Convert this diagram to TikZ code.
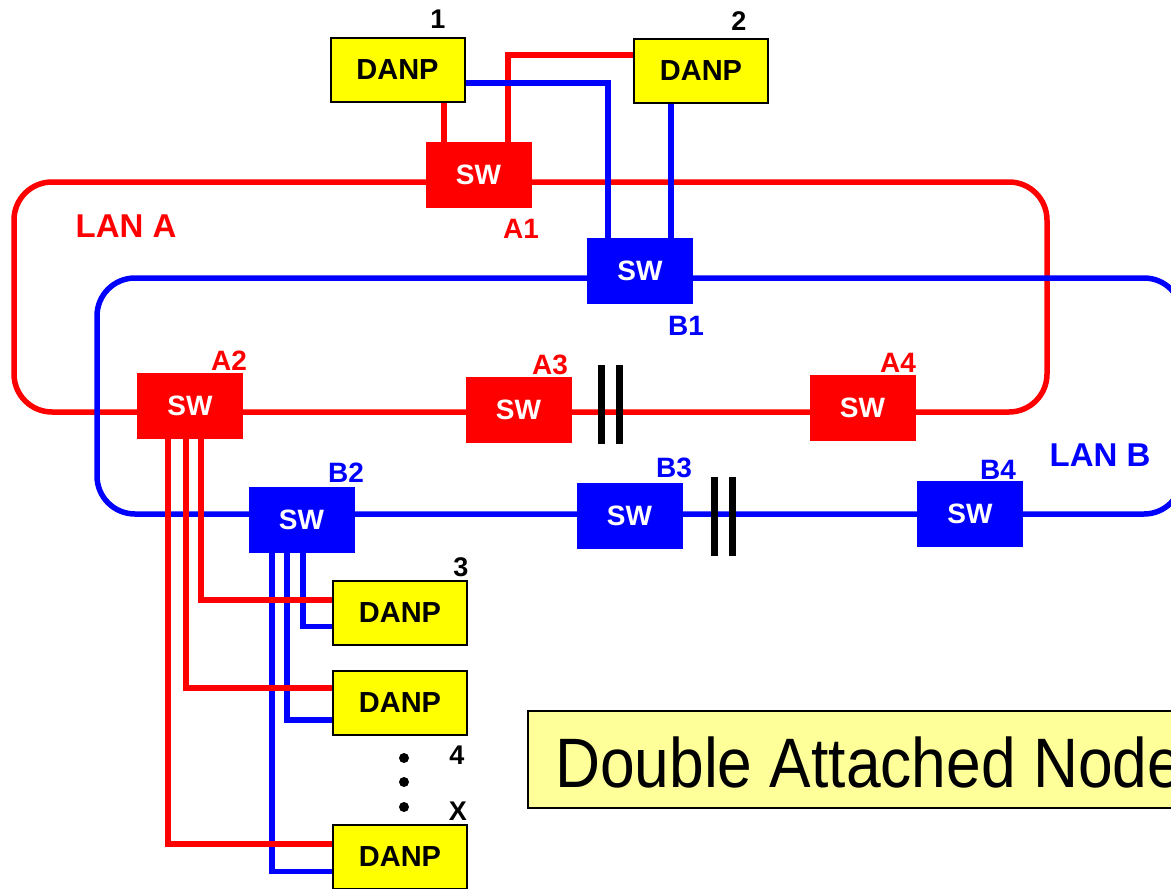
\documentclass[tikz,border=0pt]{standalone}
\usepackage{fontspec}
\setmainfont{Liberation Sans}
\usetikzlibrary{calc,backgrounds}
\definecolor{lanred}{RGB}{255,0,0}
\definecolor{lanblue}{RGB}{0,0,255}
\definecolor{danpyellow}{RGB}{255,255,0}
\definecolor{noteyellow}{RGB}{255,255,153}
\begin{document}
\begin{tikzpicture}[x=1pt,y=-1pt,
  swbox/.style={text=white, inner sep=0pt, minimum width=106pt, minimum height=66pt,
    font=\fontsize{28}{30}\selectfont\bfseries},
  swA/.style={swbox, fill=lanred},
  swB/.style={swbox, fill=lanblue},
  danp/.style={draw=black, line width=2pt, fill=danpyellow, inner sep=0pt,
    minimum width=134pt, minimum height=64pt, font=\fontsize{29}{30}\selectfont\bfseries},
  redline/.style={draw=lanred, line width=5.5pt},
  blueline/.style={draw=lanblue, line width=5.5pt},
  lblA/.style={text=lanred, inner sep=0pt, font=\fontsize{28}{30}\selectfont\bfseries},
  lblB/.style={text=lanblue, inner sep=0pt, font=\fontsize{28}{30}\selectfont\bfseries},
  lblN/.style={text=black, inner sep=0pt, font=\fontsize{27}{30}\selectfont\bfseries},
  lanlbl/.style={inner sep=0pt, font=\fontsize{33}{36}\selectfont\bfseries},
  breakbar/.style={fill=black}
]
\useasboundingbox (0,0) rectangle (1171,889);
\clip (0,0) rectangle (1171,889);

% nodes
\node[danp] (d1) at (397.5,69.5) {DANP};
\node[danp] (d2) at (701,71) {DANP};
\node[danp] (d3) at (400,612.5) {DANP};
\node[danp] (d4) at (400,703) {DANP};
\node[danp] (dx) at (400,857) {DANP};

\node[swA] (a1) at (478.5,175) {SW};
\node[swB] (b1) at (640,271) {SW};
\node[swA] (a2) at (190,406) {SW};
\node[swA] (a3) at (518.5,410) {SW};
\node[swA] (a4) at (862.5,408) {SW};
\node[swB] (b2) at (301.5,520) {SW};
\node[swB] (b3) at (629.5,516) {SW};
\node[swB] (b4) at (970,514) {SW};

\begin{scope}[on background layer]
% LAN rings
\draw[redline, rounded corners=38pt] (14,182) rectangle (1047,412);
\draw[blueline, rounded corners=38pt] (97,278) rectangle (1182,514);
% top connections
\draw[redline] ([xshift=46.5pt]d1.south) -- ([xshift=46.5pt]d1.south |- a1.north);
\draw[redline] ([xshift=29.5pt]a1.north) |- ([yshift=16pt]d2.west);
\draw[blueline] ([yshift=-13.5pt]d1.east) -| ([xshift=-32pt]b1.north);
\draw[blueline] ([xshift=-30pt]d2.south) -- ([xshift=-30pt]d2.south |- b1.north);
% blue from B2
\draw[blueline] ([xshift=1.5pt]b2.south) |- ([yshift=-14pt]d3.west);
\draw[blueline] ([xshift=-14.5pt]b2.south) |- ([yshift=-17pt]d4.west);
\draw[blueline] ([xshift=-29.5pt]b2.south) |- ([yshift=-14.5pt]dx.west);
% red from A2
\draw[redline] ([xshift=11pt]a2.south) |- ([yshift=12.5pt]d3.west);
\draw[redline] ([xshift=-4pt]a2.south) |- ([yshift=15pt]d4.west);
\draw[redline] ([xshift=-22pt]a2.south) |- ([yshift=13pt]dx.west);
\end{scope}

% break marks
\fill[breakbar] (598,365) rectangle (605,444);
\fill[breakbar] (616,365) rectangle (623,444);
\fill[breakbar] (711,477) rectangle (718,556);
\fill[breakbar] (729,477) rectangle (736,556);

% labels
\node[lblA] (la1) at (521,229) {A1};
\node[lblB] (lb1) at (686,326) {B1};
\node[lblA] (la2) at (229,361) {A2};
\node[lblA] (la3) at (550,365) {A3};
\node[lblA] (la4) at (898,363) {A4};
\node[lblB] (lb2) at (346,473) {B2};
\node[lblB] (lb3) at (674,468) {B3};
\node[lblB] (lb4) at (998,470) {B4};
\node[lanlbl, text=lanred] (lana) at (126,226) {LAN A};
\node[lanlbl, text=lanblue] (lanb) at (1100,455) {LAN B};

\node[lblN] (n1) at (438,19) {1};
\node[lblN] (n2) at (739,21) {2};
\node[lblN] (n3) at (461,567) {3};
\node[lblN] (n4) at (457,755) {4};
\node[lblN] (nx) at (458,811) {X};
\fill (404,758) circle (5pt);
\fill (404,782) circle (5pt);
\fill (404,807) circle (5pt);

% note box
\draw[line width=1.5pt, fill=noteyellow] (528,711) rectangle (1200,808);
\node[anchor=base west, inner sep=0pt, font=\fontsize{70}{80}\selectfont] (note) at (555,787)
  {\scalebox{0.89}[1]{Double Attached Node}};
\end{tikzpicture}
\end{document}
